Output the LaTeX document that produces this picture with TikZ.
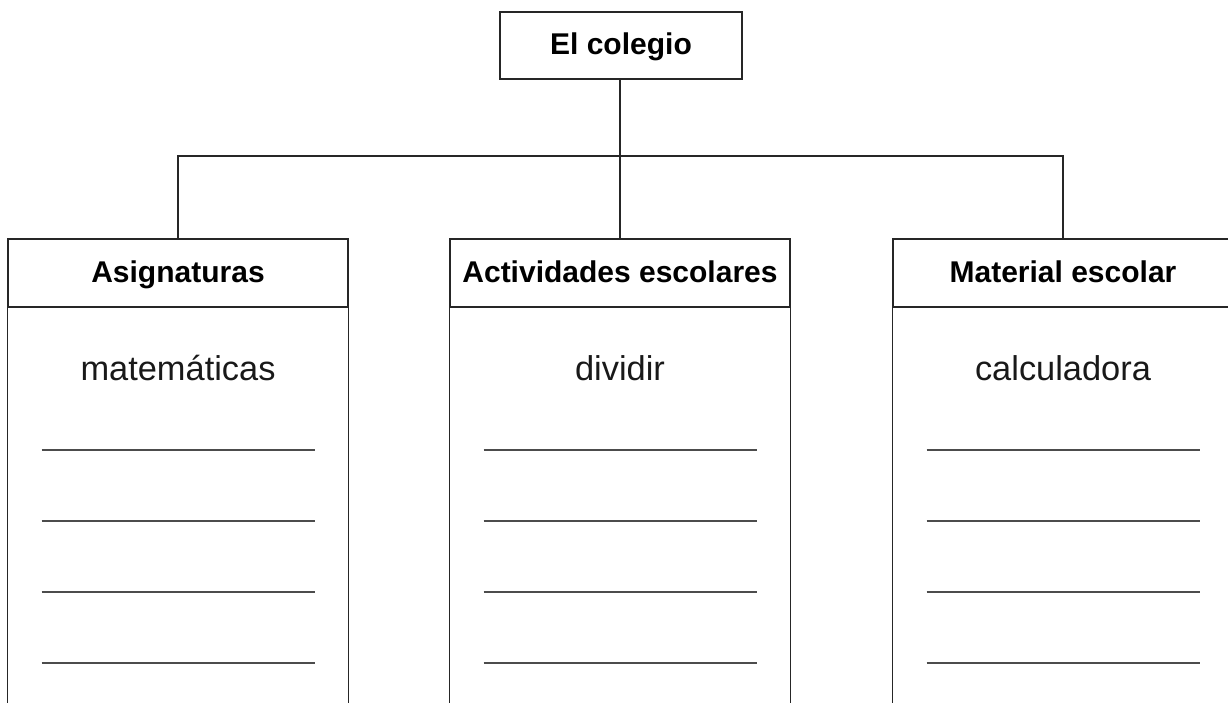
\documentclass[tikz,border=0pt]{standalone}
\usepackage{fontspec}
\setmainfont{Liberation Sans}
\usetikzlibrary{positioning}
\tikzset{
  topbox/.style={draw=black!85, line width=1.1pt, minimum width=181.5pt, minimum height=50.25pt,
    inner sep=0pt, text height=16pt, text depth=2.5pt, font=\fontsize{22.5}{26}\selectfont\bfseries},
  headbox/.style={draw=black!85, line width=1.1pt, minimum width=255pt, minimum height=51pt,
    inner sep=0pt, text height=16.5pt, text depth=2pt, font=\fontsize{22.5}{26}\selectfont\bfseries},
  itemtext/.style={anchor=base, inner sep=0pt, font=\fontsize{25.8}{30}\selectfont, text=black!90},
  writeline/.style={draw=black!70, line width=1pt}
}
\begin{document}
\begin{tikzpicture}[x=0.75pt, y=-0.75pt, line width=1.1pt, draw=black!85]
    \useasboundingbox (0,0) rectangle (1228,703);
    \clip (0,0) rectangle (1228,703);
    \node[topbox] (colegio) at (621,45.5) {El colegio};
    \node[headbox] (asig) at (178,273) {Asignaturas};
    \node[headbox] (activ) at (620,273) {Actividades escolares};
    \node[headbox] (mat) at (1063,273) {Material escolar};
    \coordinate (bus) at (620,156);
    \draw (colegio.south -| bus) -- (activ.north);
    \draw (asig.north) |- (bus) -| (mat.north);
    \foreach \c in {asig,activ,mat} {
        \draw (\c.south west) -- ++(0,420);
        \draw (\c.south east) -- ++(0,420);
    }
    \node[itemtext] (asigitem) at (178,380.5) {matemáticas};
    \node[itemtext] (activitem) at (620,380.5) {dividir};
    \node[itemtext] (matitem) at (1063,380.5) {calculadora};
    \foreach \x in {178,620,1063}
        \foreach \y in {450,521,592,663}
            \draw[writeline] (\x-136.5,\y) -- (\x+136.5,\y);
\end{tikzpicture}
\end{document}
